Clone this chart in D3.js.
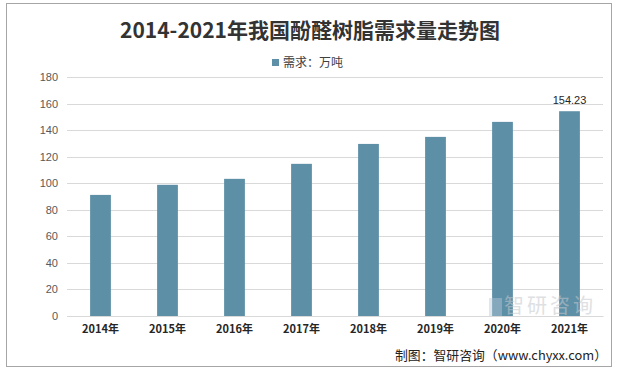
<!DOCTYPE html>
<html><head><meta charset="utf-8">
<script src="https://cdn.jsdelivr.net/npm/d3@7"></script>
<style>body{margin:0;background:#fff}svg{display:block}</style>
</head><body><svg id="c" width="618" height="372"></svg>
<script>
const categories = ["2014年","2015年","2016年","2017年","2018年","2019年","2020年","2021年"];
const demand = [91.2, 98.8, 103.3, 114.6, 129.6, 134.9, 146.2, 154.23];
const yTicks = [0,20,40,60,80,100,120,140,160,180];
const title = "2014-2021年我国酚醛树脂需求量走势图";
const legendLabel = "需求：万吨";
const source = "制图：智研咨询（www.chyxx.com）";
const watermark = "智研咨询";

const svg = d3.select("#c");
svg.append("rect").attr("x",6.5).attr("y",3.5).attr("width",605).attr("height",363)
  .attr("fill","#fff").attr("stroke","#a6a6a6").attr("stroke-width",1);

const x = d3.scaleBand().domain(categories).range([67,603]).paddingInner(0.69).paddingOuter(0.345);
const y = d3.scaleLinear().domain([0,180]).range([316,77]);

// grid
svg.append("g").selectAll("line").data(yTicks).join("line")
  .attr("x1",67).attr("x2",603).attr("y1",d=>Math.round(y(d))+0.5).attr("y2",d=>Math.round(y(d))+0.5)
  .attr("stroke","#d9d9d9").attr("stroke-width",1);

// y axis labels
const ya = svg.append("g").attr("transform","translate(58,0)")
  .call(d3.axisLeft(y).tickValues(yTicks).tickSize(0).tickPadding(0));
ya.select(".domain").remove();
ya.selectAll("text").attr("font-family","Liberation Sans, Arial, sans-serif").attr("font-size",11).attr("fill","#595959");

// bars
svg.append("g").selectAll("rect").data(demand).join("rect")
  .attr("x",(d,i)=>x(categories[i])).attr("width",x.bandwidth())
  .attr("y",d=>y(d)).attr("height",d=>y(0)-y(d)).attr("fill","#5d8fa7");

// watermark (semi-transparent, over bars)
svg.append("rect").attr("x",489).attr("y",298).attr("width",13).attr("height",18).attr("fill","#b8c8da").attr("opacity",0.45);
svg.append("text").attr("x",550).attr("y",313).attr("text-anchor","middle")
  .attr("font-family","Noto Sans CJK SC").attr("font-size",20).attr("fill","#c4c8cc").attr("opacity",0.55)
  .attr("letter-spacing",3).text(watermark);

// x axis
const xa = svg.append("g").attr("transform","translate(0,316)")
  .call(d3.axisBottom(x).tickSize(0).tickPadding(9));
xa.select(".domain").attr("stroke","#d9d9d9");
xa.selectAll("text").attr("font-family","Noto Sans CJK SC").attr("font-weight","bold").attr("font-size",11).attr("fill","#262626");

// data label
svg.append("text").attr("x",x(categories[7])+x.bandwidth()/2).attr("y",y(demand[7])-7)
  .attr("text-anchor","middle").attr("font-family","Liberation Sans, Arial, sans-serif").attr("font-size",11).attr("fill","#262626")
  .text(d3.format(".2f")(demand[7]));

// title
svg.append("text").attr("x",310).attr("y",38).attr("text-anchor","middle")
  .attr("font-family","Noto Sans CJK SC").attr("font-weight","bold").attr("font-size",21).attr("fill","#333")
  .text(title);

// legend
svg.append("rect").attr("x",272).attr("y",59).attr("width",7).attr("height",7).attr("fill","#5d8fa7");
svg.append("text").attr("x",283).attr("y",67).attr("font-family","Noto Sans CJK SC").attr("font-size",12).attr("fill","#404040").text(legendLabel);

// source
svg.append("text").attr("x",395).attr("y",360).attr("font-family","Noto Sans CJK SC").attr("font-size",13)
  .attr("fill","#222").attr("textLength",212).attr("lengthAdjust","spacingAndGlyphs").text(source);
</script></body></html>
